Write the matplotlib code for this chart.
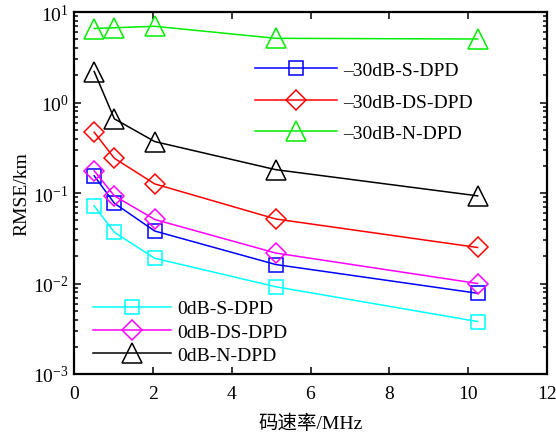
import numpy as np
import matplotlib.pyplot as plt
from matplotlib.ticker import LogLocator, FixedLocator

plt.rcParams['font.family'] = ['Liberation Serif', 'Noto Sans CJK SC']
plt.rcParams['mathtext.fontset'] = 'stix'

# code rate (MHz)
rate = [0.512, 1.024, 2.048, 5.12, 10.24]

# RMSE/km per scheme
m30_s = [0.155, 0.077, 0.038, 0.0162, 0.0078]
m30_ds = [0.47, 0.242, 0.126, 0.0516, 0.025]
m30_n = [6.57, 6.7, 6.95, 5.12, 5.03]
z_s = [0.072, 0.0368, 0.019, 0.0092, 0.0038]
z_ds = [0.176, 0.093, 0.051, 0.0217, 0.010]
z_n = [2.2, 0.66, 0.37, 0.181, 0.093]

fig = plt.figure(figsize=(5.56, 4.35), dpi=100)
ax = fig.add_axes([74 / 556, 1 - 375 / 435, 473 / 556, 362 / 435])

style = dict(lw=1.1, mfc='none', mew=1.1)
h1, = ax.plot(rate, m30_s, color='#0000ff', marker='s', ms=10, label='\u201330dB-S-DPD', **style)
h2, = ax.plot(rate, m30_ds, color='#ff0000', marker='D', ms=10, label='\u201330dB-DS-DPD', **style)
h3, = ax.plot(rate, m30_n, color='#00ee00', marker='^', ms=14, label='\u201330dB-N-DPD', **style)
h4, = ax.plot(rate, z_s, color='#00ffff', marker='s', ms=10, label='0dB-S-DPD', **style)
h5, = ax.plot(rate, z_ds, color='#ff00ff', marker='D', ms=10, label='0dB-DS-DPD', **style)
h6, = ax.plot(rate, z_n, color='black', marker='^', ms=14, label='0dB-N-DPD', **style)

ax.set_yscale('log')
ax.set_xlim(0, 12)
ax.set_ylim(1e-3, 1e1)
ax.xaxis.set_major_locator(FixedLocator([0, 2, 4, 6, 8, 10, 12]))
ax.yaxis.set_major_locator(LogLocator(base=10, numticks=10))
ax.yaxis.set_minor_locator(LogLocator(base=10, subs=np.arange(2, 10), numticks=10))
ax.tick_params(which='both', direction='in', top=True, right=True, labelsize=14, width=1.1)
ax.tick_params(which='major', length=5)
ax.tick_params(which='minor', length=3)
ax.tick_params(axis='x', pad=8)
ax.tick_params(axis='y', pad=4)
for s in ax.spines.values():
    s.set_linewidth(1.6)

ax.set_xlabel('码速率/MHz', fontsize=14, labelpad=8)
ax.set_ylabel('RMSE/km', fontsize=14, labelpad=2)

leg1 = ax.legend(handles=[h1, h2, h3], loc='upper left', bbox_to_anchor=(0.367, 0.885),
                 frameon=False, fontsize=14, handlelength=4.2, handletextpad=0.3,
                 labelspacing=0.72, borderaxespad=0)
ax.add_artist(leg1)
ax.legend(handles=[h4, h5, h6], loc='lower left', bbox_to_anchor=(0.02, 0.0),
          frameon=False, fontsize=14, handlelength=4.0, handletextpad=0.3,
          labelspacing=0.3, borderaxespad=0.1)

fig.savefig('out.png', dpi=100)
